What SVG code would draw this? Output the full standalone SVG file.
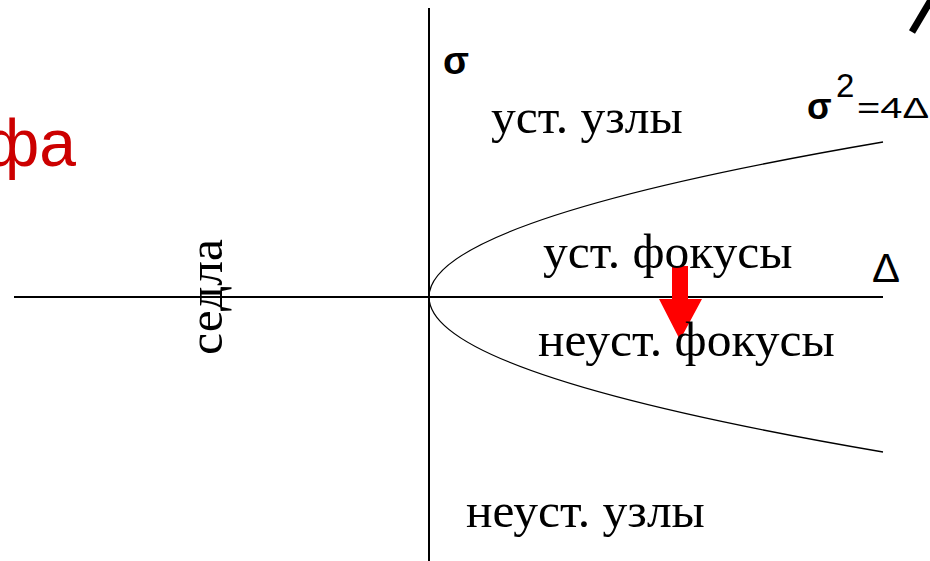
<svg xmlns="http://www.w3.org/2000/svg" width="930" height="561" viewBox="0 0 930 561">
<style>
.lbl{font-family:"Liberation Serif","Times New Roman",serif;font-size:49.5px;fill:#000}
.sym{font-family:"Liberation Sans",Arial,sans-serif;fill:#000}
.ax{stroke:#000;stroke-width:2;fill:none}
</style>
<rect width="930" height="561" fill="#fff"/>
<text x="76" y="166" text-anchor="end" style="font-family:'Liberation Sans',Arial,sans-serif;font-size:66px;fill:#cc0000">фа</text>
<g id="axes">
<line class="ax" x1="14" y1="297" x2="883" y2="297"/>
<line class="ax" x1="429" y1="8" x2="429" y2="561"/>
</g>
<g id="connectors">
<path d="M883 142 Q429 219.5 429 297 Q429 374.5 883 452" fill="none" stroke="#000" stroke-width="1.3"/>
<line x1="912" y1="32" x2="931" y2="0" stroke="#000" stroke-width="7"/>
</g>
<g id="arrow">
<path d="M672 266 H688 V299 H702 L680 340 L659 299 H672 Z" fill="#ff0000"/>
</g>
<g id="labels">
<text class="sym" x="443" y="74" style="font-size:38px;font-weight:bold">σ</text>
<text class="sym" x="807" y="119" style="font-size:36px;font-weight:bold">σ</text>
<text class="sym" x="836" y="97" style="font-size:33px">2</text>
<text class="sym" x="857" y="118" style="font-size:29px" textLength="72" lengthAdjust="spacingAndGlyphs">=4Δ</text>
<text class="sym" x="872" y="282" style="font-size:40px" textLength="28" lengthAdjust="spacingAndGlyphs">Δ</text>
<text class="lbl" x="491" y="133">уст. узлы</text>
<text class="lbl" x="543" y="268">уст. фокусы</text>
<text class="lbl" x="538" y="356">неуст. фокусы</text>
<text class="lbl" x="466" y="527">неуст. узлы</text>
<text class="lbl" transform="translate(222 297) rotate(-90)" text-anchor="middle">седла</text>
</g>
</svg>
